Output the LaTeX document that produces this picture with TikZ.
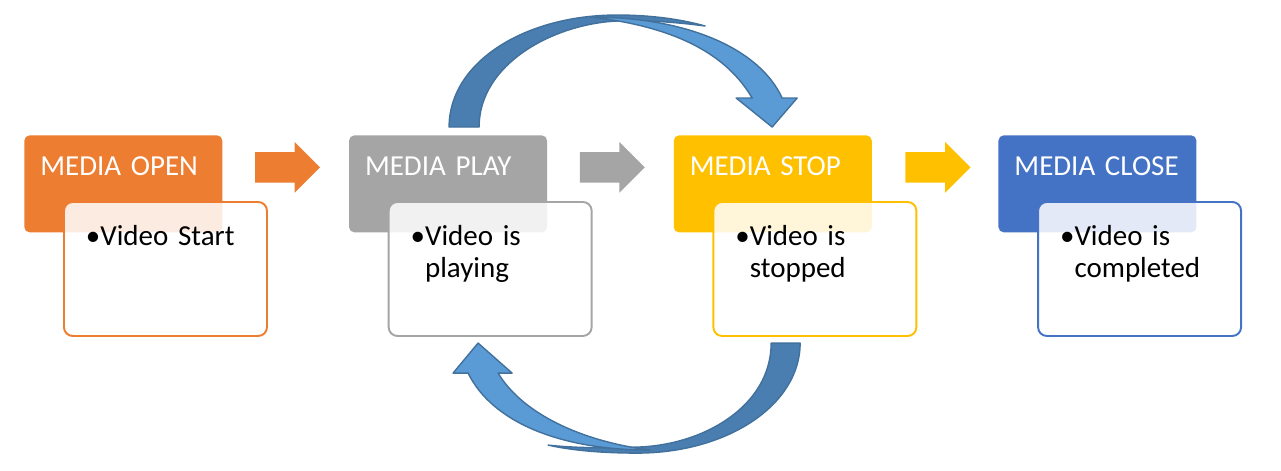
\documentclass[tikz,border=0pt]{standalone}
\usepackage{fontspec}
\setmainfont{Carlito}
\usepackage{xcolor}
\usetikzlibrary{positioning,shapes.arrows}
\definecolor{mopen}{HTML}{ED7D31}
\definecolor{mplay}{HTML}{A5A5A5}
\definecolor{mstop}{HTML}{FFC000}
\definecolor{mclose}{HTML}{4472C4}
\definecolor{arcfront}{HTML}{5B9BD5}
\definecolor{arcback}{HTML}{4A7DB0}
\definecolor{arcline}{HTML}{41719C}

\begin{document}
\begin{tikzpicture}[
  font=\fontsize{16.5}{18.1}\selectfont,
  hd/.style={rounded corners=3pt,text=white,align=left,text width=3.32cm,inner xsep=0.32cm,inner ysep=0pt,
             text height=0.8cm,text depth=1.14cm},
  dt/.style={draw,fill=white,fill opacity=0.85,text opacity=1,line width=1.1pt,rounded corners=5pt,align=left,
             text width=3.18cm,inner xsep=0.44cm,inner ysep=0pt,text height=0.88cm,text depth=1.8cm},
  blk/.style={single arrow,single arrow head extend=0.2cm,minimum width=1cm,minimum height=1.3cm,
              inner xsep=0pt,inner ysep=0.3cm},
  arcband/.style={fill=arcfront,draw=arcline,line width=0.8pt,line join=round}]
\useasboundingbox (0,0) rectangle (25.62,-9.4);
\node[hd,fill=mopen,anchor=north west] (ho) at (0.48,-2.7) {MEDIA OPEN};
\node[hd,fill=mplay,right=2.52cm of ho] (hp) {MEDIA PLAY};
\node[hd,fill=mstop,right=2.52cm of hp] (hs) {MEDIA STOP};
\node[hd,fill=mclose,right=2.52cm of hs] (hc) {MEDIA CLOSE};
\node[dt,draw=mopen,below right=1.32cm and 0.78cm of ho.north west] (do) {\textbullet Video Start};
\node[dt,draw=mplay,below right=1.32cm and 0.78cm of hp.north west] (dp) {\textbullet Video is\\\phantom{\textbullet}playing};
\node[dt,draw=mstop,below right=1.32cm and 0.78cm of hs.north west] (ds) {\textbullet Video is\\\phantom{\textbullet}stopped};
\node[dt,draw=mclose,below right=1.32cm and 0.78cm of hc.north west] (dc) {\textbullet Video is\\\phantom{\textbullet}completed};
\node[blk,fill=mopen,right=0.64cm of ho,yshift=0.33cm] (ao) {};
\node[blk,fill=mplay,right=0.64cm of hp,yshift=0.33cm] (ap) {};
\node[blk,fill=mstop,right=0.66cm of hs,yshift=0.33cm] (as) {};
\begin{scope}[x=0.02cm,y=-0.02cm]
\draw[arcband,fill=arcback] (449,127) .. controls (449,62) and (525,15) .. (617,15)
  .. controls (650,15) and (680,19) .. (705,26) .. controls (675,22) and (645,20) .. (617,21)
  .. controls (553,24) and (479,64) .. (479,127) -- cycle;
\draw[arcband] (590,17) .. controls (690,17) and (760,50) .. (782,98) -- (797,98) -- (772,127)
  -- (736,98) -- (752,98) .. controls (728,57) and (680,27) .. (590,17) -- cycle;
\draw[arcband,fill=arcback] (800,343) .. controls (800,405) and (727,453) .. (637,453)
  .. controls (600,453) and (570,450) .. (548,445) .. controls (575,448) and (605,448) .. (637,447)
  .. controls (705,445) and (771,405) .. (771,343) -- cycle;
\draw[arcband] (650,450) .. controls (560,450) and (492,422) .. (468,373) -- (453,373) -- (478,343)
  -- (512,373) -- (498,373) .. controls (522,413) and (580,441) .. (650,450) -- cycle;
\end{scope}
\end{tikzpicture}
\end{document}
